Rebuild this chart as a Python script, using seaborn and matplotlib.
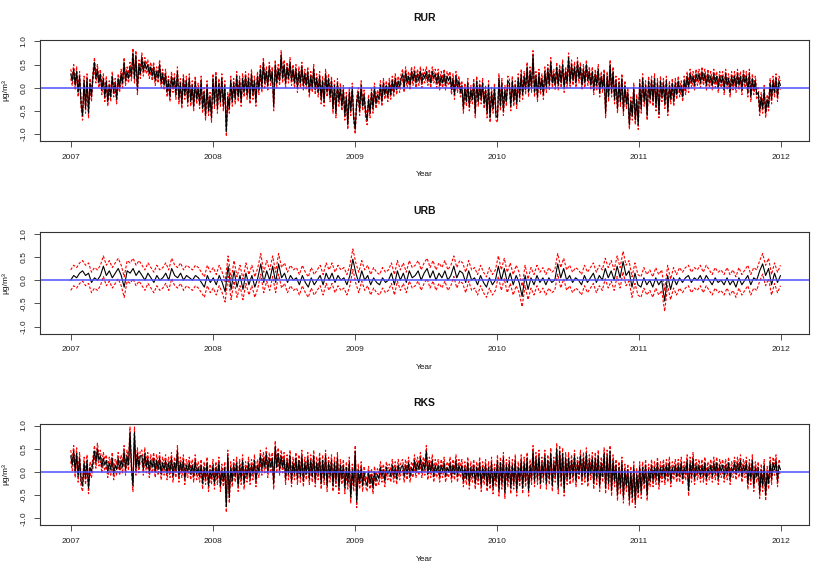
import pandas as pd
import numpy as np
import matplotlib
matplotlib.use("Agg")
import matplotlib.pyplot as plt
import seaborn as sns

sns.set_style("white")
plt.rcParams["font.family"] = ["Liberation Sans", "DejaVu Sans"]
plt.rcParams["axes.unicode_minus"] = False
plt.rcParams["text.color"] = "#111111"
plt.rcParams["axes.labelcolor"] = "#111111"
plt.rcParams["xtick.color"] = "#222222"
plt.rcParams["ytick.color"] = "#222222"

# panel names
panels = ["RUR", "URB", "RKS"]

# estimates, Jan 2007 .. Dec 2011
# RUR: 8 values per month
rur_est = [
    0.30, 0.15, 0.40, 0.05, 0.35, -0.10, 0.25, -0.35,
    -0.60, 0.15, -0.45, 0.20, -0.55, 0.10, -0.20, 0.25,
    0.55, 0.20, 0.40, 0.10, 0.30, -0.05, 0.20, -0.20,
    0.15, -0.30, 0.05, -0.20, 0.25, -0.10, 0.10, -0.25,
    0.20, 0.00, 0.30, 0.10, 0.55, 0.15, 0.35, 0.20,
    0.45, 0.25, 0.75, 0.20, 0.70, -0.05, 0.50, 0.30,
    0.65, 0.35, 0.55, 0.40, 0.50, 0.30, 0.45, 0.25,
    0.45, 0.15, 0.35, 0.20, 0.50, 0.10, 0.30, 0.05,
    0.30, -0.10, 0.15, -0.20, 0.25, 0.00, 0.20, -0.15,
    0.35, -0.25, 0.10, -0.35, 0.20, -0.15, 0.15, -0.30,
    0.20, -0.30, 0.05, -0.40, 0.15, -0.25, 0.00, -0.35,
    0.15, -0.45, -0.10, -0.60, 0.05, -0.50, -0.20, -0.65,
    # 2008
    0.20, -0.35, 0.25, -0.45, 0.10, -0.30, 0.20, -0.40,
    0.05, -0.95, -0.20, -0.45, 0.15, -0.30, 0.10, -0.25,
    0.25, -0.20, 0.15, -0.30, 0.20, -0.10, 0.25, -0.15,
    0.20, -0.25, 0.30, -0.15, 0.15, -0.30, 0.25, -0.05,
    0.40, 0.00, 0.55, 0.10, 0.35, 0.05, 0.45, 0.15,
    0.35, -0.40, 0.50, 0.10, 0.40, 0.15, 0.70, 0.20,
    0.50, 0.10, 0.45, 0.20, 0.55, 0.15, 0.40, 0.10,
    0.40, 0.00, 0.35, 0.10, 0.45, 0.05, 0.30, 0.05,
    0.35, -0.10, 0.25, 0.00, 0.40, -0.05, 0.20, -0.10,
    0.25, -0.25, 0.15, -0.30, 0.30, -0.10, 0.20, -0.20,
    0.15, -0.45, 0.05, -0.55, 0.10, -0.30, 0.00, -0.40,
    -0.05, -0.60, -0.20, -0.80, -0.10, -0.50, 0.00, -0.65,
    # 2009
    -0.90, -0.30, -0.10, -0.50, 0.05, -0.40, -0.15, -0.55,
    -0.70, -0.25, -0.55, -0.10, -0.45, 0.00, -0.35, -0.15,
    -0.25, 0.05, -0.30, 0.10, -0.15, 0.05, -0.20, 0.10,
    -0.15, 0.15, -0.10, 0.20, -0.05, 0.15, 0.00, 0.20,
    0.30, 0.00, 0.35, 0.10, 0.25, 0.05, 0.35, 0.15,
    0.35, 0.10, 0.30, 0.15, 0.35, 0.10, 0.30, 0.20,
    0.35, 0.15, 0.30, 0.10, 0.35, 0.20, 0.30, 0.10,
    0.30, 0.05, 0.25, 0.10, 0.30, 0.05, 0.25, 0.15,
    0.25, -0.05, 0.20, -0.15, 0.25, 0.00, 0.15, -0.10,
    0.05, -0.45, 0.00, -0.30, 0.10, -0.40, -0.05, -0.25,
    0.10, -0.55, 0.15, -0.30, 0.05, -0.25, 0.10, -0.35,
    -0.05, -0.55, 0.05, -0.65, -0.10, -0.45, 0.00, -0.60,
    # 2010
    -0.65, 0.20, -0.40, 0.10, -0.50, -0.05, -0.30, 0.15,
    0.10, -0.40, 0.15, -0.30, 0.05, -0.35, 0.20, -0.20,
    0.30, -0.15, 0.25, -0.05, 0.45, -0.10, 0.35, 0.00,
    0.70, -0.10, 0.25, -0.20, 0.30, -0.05, 0.20, -0.15,
    0.35, 0.00, 0.40, 0.05, 0.55, 0.10, 0.30, 0.05,
    0.45, 0.05, 0.40, 0.10, 0.50, 0.00, 0.35, 0.10,
    0.65, 0.10, 0.50, 0.15, 0.45, 0.10, 0.55, 0.20,
    0.45, 0.05, 0.40, 0.10, 0.50, 0.15, 0.35, 0.05,
    0.35, -0.05, 0.30, 0.05, 0.40, -0.10, 0.25, 0.00,
    0.30, -0.55, 0.25, -0.20, 0.50, -0.10, 0.35, -0.25,
    0.15, -0.45, 0.10, -0.30, 0.20, -0.50, 0.05, -0.35,
    -0.10, -0.80, -0.30, -0.60, 0.00, -0.70, -0.25, -0.80,
    # 2011
    0.10, -0.45, 0.20, -0.30, 0.05, -0.60, 0.15, -0.25,
    0.15, -0.30, 0.20, -0.40, 0.10, -0.55, 0.15, -0.20,
    0.10, -0.35, 0.15, -0.50, 0.05, -0.25, 0.10, -0.30,
    0.10, -0.15, 0.15, -0.10, 0.05, -0.20, 0.15, -0.05,
    0.25, 0.00, 0.30, 0.10, 0.25, 0.05, 0.30, 0.15,
    0.30, 0.10, 0.35, 0.15, 0.30, 0.05, 0.30, 0.10,
    0.25, 0.05, 0.30, 0.10, 0.25, 0.00, 0.25, 0.10,
    0.25, -0.05, 0.30, 0.05, 0.20, -0.10, 0.25, 0.05,
    0.25, 0.00, 0.30, 0.05, 0.25, -0.05, 0.30, 0.10,
    0.25, -0.10, 0.30, -0.20, 0.20, -0.05, 0.15, -0.15,
    -0.10, -0.50, -0.20, -0.45, -0.05, -0.55, -0.25, -0.40,
    0.10, -0.25, 0.15, -0.10, 0.20, -0.20, 0.15, 0.05,
]

# URB: 4 values per month (smoother series)
urb_est = [
    0.00, 0.10, 0.05, 0.15, 0.20, 0.10, 0.15, -0.05, 0.05, 0.00, 0.10, 0.30,
    0.10, 0.20, 0.05, 0.15, 0.25, 0.10, -0.15, 0.20, 0.15, 0.25, 0.10, 0.20,
    0.10, 0.00, 0.15, 0.05, -0.05, 0.10, 0.00, 0.05, 0.15, 0.00, 0.25, 0.10,
    0.05, 0.15, 0.00, 0.10, 0.05, 0.00, 0.10, 0.05, -0.05, -0.15, 0.10, -0.05,
    # 2008
    0.05, -0.10, 0.10, -0.05, -0.25, 0.30, -0.20, 0.20, -0.15, 0.10, -0.20, 0.15,
    -0.10, 0.10, -0.15, 0.05, 0.35, -0.05, 0.20, 0.00, 0.30, -0.05, 0.35, 0.05,
    0.15, -0.05, 0.10, 0.00, 0.05, -0.10, 0.10, -0.05, -0.15, 0.05, -0.10, 0.00,
    0.10, -0.10, 0.15, 0.00, 0.15, -0.05, 0.10, 0.00, 0.05, -0.10, 0.10, 0.45,
    # 2009
    0.15, -0.05, 0.20, 0.00, 0.10, -0.10, 0.05, -0.05, -0.10, 0.05, -0.05, 0.00,
    0.15, -0.10, 0.20, 0.00, 0.15, -0.05, 0.20, 0.05, 0.10, 0.20, 0.00, 0.15,
    0.25, 0.05, 0.20, 0.00, 0.15, 0.05, 0.20, 0.00, 0.10, 0.30, 0.05, 0.20,
    0.15, -0.05, 0.20, 0.00, 0.05, -0.10, 0.10, -0.05, -0.15, 0.05, -0.10, 0.00,
    # 2010
    0.30, 0.00, 0.25, -0.05, 0.15, -0.10, 0.10, -0.05, -0.35, 0.10, -0.20, 0.05,
    -0.10, 0.10, -0.05, 0.05, -0.10, 0.05, -0.05, 0.00, 0.35, 0.05, 0.25, 0.00,
    0.10, -0.05, 0.05, 0.00, -0.10, 0.10, -0.05, 0.05, 0.15, -0.05, 0.10, 0.00,
    0.25, 0.05, 0.20, 0.00, 0.30, 0.05, 0.40, 0.10, 0.20, -0.15, 0.15, -0.10,
    # 2011
    -0.15, 0.05, -0.10, 0.00, -0.15, 0.05, -0.10, 0.00, -0.45, 0.10, -0.20, 0.05,
    -0.10, 0.05, -0.05, 0.05, 0.10, -0.05, 0.05, 0.00, 0.10, -0.05, 0.10, 0.00,
    -0.10, 0.05, -0.05, 0.00, -0.10, 0.05, -0.10, 0.00, -0.15, 0.05, -0.10, 0.00,
    0.10, -0.10, 0.05, 0.00, 0.20, 0.35, 0.10, 0.25, -0.10, 0.15, -0.05, 0.10,
]

# RKS: 8 values per month
rks_est = [
    0.35, 0.15, 0.45, 0.00, 0.40, -0.10, 0.30, -0.20,
    -0.30, 0.20, -0.15, 0.25, -0.35, 0.10, 0.00, 0.20,
    0.45, 0.20, 0.50, 0.25, 0.35, 0.10, 0.30, 0.15,
    0.25, 0.00, 0.20, 0.05, 0.30, -0.05, 0.15, 0.05,
    0.30, 0.05, 0.25, 0.10, 0.45, 0.05, 0.35, 0.15,
    0.85, 0.10, -0.30, 0.85, 0.05, 0.40, 0.10, 0.35,
    0.35, 0.05, 0.40, 0.10, 0.30, 0.00, 0.25, 0.10,
    0.30, 0.00, 0.25, 0.05, 0.30, -0.05, 0.20, 0.05,
    0.25, -0.05, 0.20, 0.00, 0.30, -0.10, 0.20, 0.00,
    0.45, -0.10, 0.20, 0.00, 0.25, -0.15, 0.15, 0.00,
    0.20, -0.05, 0.15, -0.10, 0.25, -0.05, 0.10, -0.10,
    0.15, -0.25, 0.10, -0.15, 0.20, -0.30, 0.05, -0.15,
    # 2008
    0.15, -0.25, 0.10, -0.15, 0.20, -0.30, 0.05, -0.20,
    0.10, -0.75, 0.35, -0.55, 0.10, -0.20, 0.15, -0.10,
    0.20, -0.30, 0.15, -0.15, 0.25, -0.25, 0.10, -0.10,
    0.20, -0.15, 0.15, -0.05, 0.25, -0.20, 0.15, 0.00,
    0.35, 0.05, 0.30, 0.10, 0.40, 0.00, 0.30, 0.10,
    0.30, -0.25, 0.55, 0.10, 0.40, 0.05, 0.35, 0.10,
    0.30, -0.15, 0.25, -0.05, 0.35, -0.20, 0.20, -0.05,
    0.30, -0.15, 0.25, -0.10, 0.35, -0.20, 0.20, -0.05,
    0.30, -0.15, 0.25, -0.10, 0.35, -0.20, 0.20, -0.05,
    0.30, -0.25, 0.25, -0.15, 0.35, -0.30, 0.20, -0.10,
    0.25, -0.30, 0.20, -0.20, 0.30, -0.35, 0.15, -0.15,
    0.15, -0.35, 0.10, -0.25, 0.20, -0.55, 0.05, -0.30,
    # 2009
    0.45, -0.65, 0.05, -0.25, 0.10, -0.30, 0.00, -0.20,
    -0.30, 0.00, -0.25, -0.05, -0.35, 0.00, -0.20, -0.05,
    -0.15, 0.10, -0.10, 0.05, -0.20, 0.10, -0.05, 0.05,
    -0.10, 0.15, -0.10, 0.10, -0.15, 0.15, -0.05, 0.10,
    0.15, -0.10, 0.15, -0.05, 0.20, -0.10, 0.10, 0.00,
    0.25, 0.00, 0.20, 0.05, 0.30, 0.00, 0.20, 0.05,
    0.45, -0.05, 0.20, 0.00, 0.25, -0.10, 0.15, 0.00,
    0.15, -0.10, 0.15, 0.00, 0.20, -0.10, 0.10, 0.00,
    0.20, -0.10, 0.15, -0.05, 0.25, -0.10, 0.15, 0.00,
    0.15, -0.20, 0.10, -0.15, 0.20, -0.25, 0.10, -0.10,
    0.15, -0.25, 0.10, -0.15, 0.20, -0.30, 0.10, -0.15,
    0.15, -0.30, 0.10, -0.25, 0.20, -0.35, 0.05, -0.20,
    # 2010
    0.25, -0.40, 0.20, -0.25, 0.30, -0.45, 0.15, -0.20,
    0.20, -0.35, 0.15, -0.25, 0.25, -0.40, 0.10, -0.20,
    0.25, -0.35, 0.20, -0.20, 0.30, -0.40, 0.15, -0.15,
    0.45, -0.20, 0.30, -0.15, 0.35, -0.25, 0.20, -0.10,
    0.35, -0.25, 0.25, -0.15, 0.40, -0.30, 0.20, -0.10,
    0.50, -0.35, 0.45, -0.20, 0.40, -0.40, 0.30, -0.15,
    0.30, -0.15, 0.25, -0.10, 0.35, -0.20, 0.20, -0.05,
    0.35, -0.15, 0.30, -0.10, 0.40, -0.20, 0.25, -0.05,
    0.30, -0.25, 0.30, -0.15, 0.35, -0.30, 0.20, -0.10,
    0.40, -0.35, 0.35, -0.25, 0.45, -0.40, 0.25, -0.20,
    0.15, -0.50, 0.10, -0.35, 0.20, -0.55, 0.05, -0.30,
    0.05, -0.60, 0.00, -0.55, 0.10, -0.65, -0.05, -0.45,
    # 2011
    0.10, -0.45, 0.10, -0.25, 0.15, -0.50, 0.05, -0.20,
    0.15, -0.20, 0.10, -0.15, 0.20, -0.25, 0.10, -0.10,
    0.15, -0.15, 0.15, -0.10, 0.20, -0.20, 0.10, -0.05,
    0.15, -0.10, 0.15, -0.10, 0.20, -0.15, 0.10, -0.05,
    0.25, -0.40, 0.20, -0.10, 0.30, -0.15, 0.15, -0.05,
    0.15, -0.10, 0.15, -0.10, 0.20, -0.15, 0.10, -0.05,
    0.15, -0.10, 0.20, -0.05, 0.20, -0.15, 0.15, 0.00,
    0.15, -0.10, 0.15, -0.05, 0.20, -0.15, 0.10, 0.00,
    0.20, -0.05, 0.20, 0.00, 0.25, -0.10, 0.15, 0.00,
    0.20, -0.25, 0.15, -0.15, 0.25, -0.30, 0.10, -0.10,
    0.10, -0.45, 0.05, -0.30, 0.15, -0.50, 0.00, -0.25,
    0.20, -0.15, 0.20, 0.05, 0.25, -0.20, 0.15, 0.05,
]

# half width of the dashed red interval, per panel
half_width = [0.10, 0.22, 0.12]

year_ticks = pd.to_datetime(["2007-01-01", "2008-01-01", "2009-01-01",
                             "2010-01-01", "2011-01-01", "2012-01-01"])
year_labels = ["2007", "2008", "2009", "2010", "2011", "2012"]
y_ticks = [-1.0, -0.5, 0.0, 0.5, 1.0]

fig = plt.figure(figsize=(8.3, 5.76), dpi=100)
# axes boxes in figure fractions (left, bottom, width, height)
boxes = [
    [0.0482, 0.7552, 0.9268, 0.1762],
    [0.0482, 0.4207, 0.9268, 0.1770],
    [0.0482, 0.0880, 0.9268, 0.1764],
]

for name, est, hw, box in zip(panels, [rur_est, urb_est, rks_est], half_width, boxes):
    ax = fig.add_axes(box)
    dates = pd.date_range("2007-01-01", "2011-12-31", periods=len(est))
    df = pd.DataFrame({"date": dates, "est": est})
    df["upper"] = df["est"] + hw
    df["lower"] = df["est"] - hw

    sns.lineplot(data=df, x="date", y="upper", ax=ax, color="red", lw=0.8,
                 linestyle=(0, (2.5, 1.5)), estimator=None)
    sns.lineplot(data=df, x="date", y="lower", ax=ax, color="red", lw=0.8,
                 linestyle=(0, (2.5, 1.5)), estimator=None)
    sns.lineplot(data=df, x="date", y="est", ax=ax, color="black", lw=0.8,
                 estimator=None)
    ax.axhline(0, color="#4f4fff", lw=1.3, alpha=0.85)

    ax.set_xlim(pd.Timestamp("2006-10-14"), pd.Timestamp("2012-03-14"))
    ax.set_ylim(-1.15, 1.04)
    ax.set_xticks(year_ticks)
    ax.set_xticklabels(year_labels)
    ax.set_yticks(y_ticks)
    ax.set_yticklabels([f"{v:.1f}" for v in y_ticks], rotation=90, va="center")
    ax.tick_params(axis="both", labelsize=6, length=4, width=0.6,
                   direction="out", color="#333333", pad=5,
                   bottom=True, left=True)
    for sp in ax.spines.values():
        sp.set_visible(True)
        sp.set_color("#333333")
        sp.set_linewidth(0.8)

    ax.set_title(name, fontsize=7.5, fontweight="bold", pad=13)
    ax.set_xlabel("Year", fontsize=6)
    ax.set_ylabel("µg/m³", fontsize=6)
    ax.xaxis.set_label_coords(0.5, -0.30)
    ax.yaxis.set_label_coords(-0.040, 0.5)

plt.savefig("out.png", dpi=100)
